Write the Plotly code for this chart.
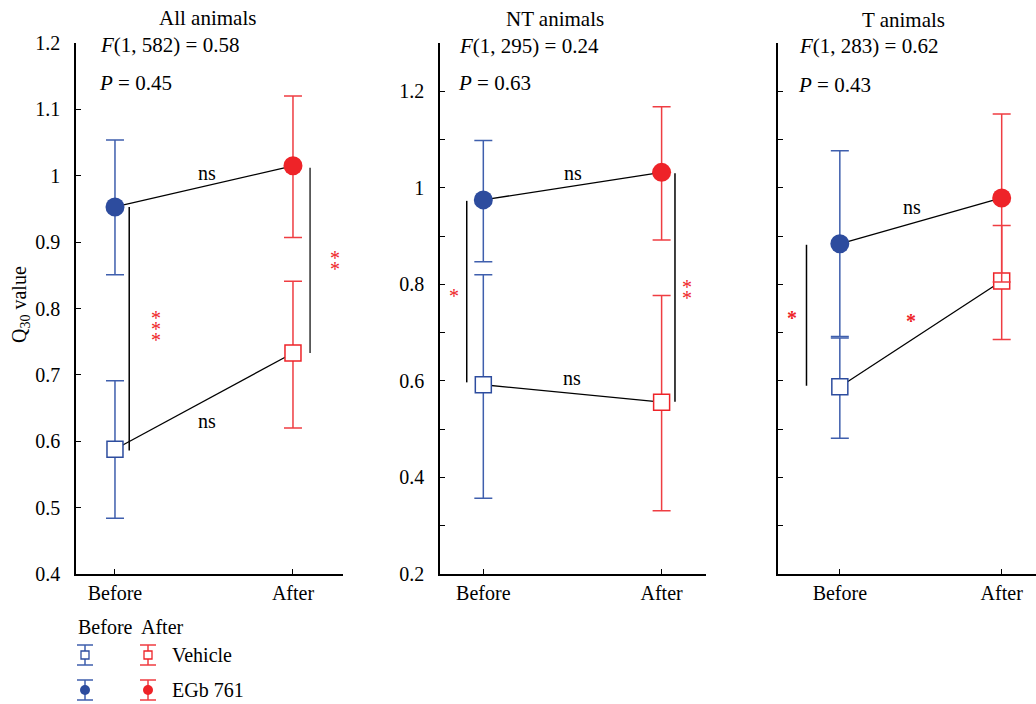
import plotly.graph_objects as go

# ---- data -------------------------------------------------------------
conditions = ["Before", "After"]

all_vehicle = [0.588, 0.733]
all_vehicle_hi = [0.691, 0.841]
all_vehicle_lo = [0.484, 0.620]
all_egb = [0.953, 1.015]
all_egb_hi = [1.054, 1.120]
all_egb_lo = [0.851, 0.907]

nt_vehicle = [0.592, 0.556]
nt_vehicle_hi = [0.820, 0.777]
nt_vehicle_lo = [0.357, 0.331]
nt_egb = [0.975, 1.032]
nt_egb_hi = [1.098, 1.168]
nt_egb_lo = [0.847, 0.892]

t_vehicle = [0.588, 0.807]
t_vehicle_hi = [0.689, 0.922]
t_vehicle_lo = [0.481, 0.686]
t_egb = [0.884, 0.979]
t_egb_hi = [1.077, 1.153]
t_egb_lo = [0.692, 0.805]

panel_titles = ["All animals", "NT animals", "T animals"]
f_stats = ["<i>F</i>(1, 582) = 0.58", "<i>F</i>(1, 295) = 0.24", "<i>F</i>(1, 283) = 0.62"]
p_stats = ["<i>P</i> = 0.45", "<i>P</i> = 0.63", "<i>P</i> = 0.43"]

y1_ticks = [0.4, 0.5, 0.6, 0.7, 0.8, 0.9, 1.0, 1.1, 1.2]
y1_labels = ["0.4", "0.5", "0.6", "0.7", "0.8", "0.9", "1", "1.1", "1.2"]
y2_ticks = [0.2, 0.4, 0.6, 0.8, 1.0, 1.2]
y2_labels = ["0.2", "0.4", "0.6", "0.8", "1", "1.2"]

# ---- style ------------------------------------------------------------
W, H = 1036, 704
FONT = "Liberation Serif"
BLUE = "#2d4c9e"
BLUE_BAR = "#3f5fad"
RED = "#ee2328"
RED_BAR = "#ef3d42"
STAR_RED = "#ee2328"


def px_x(p):
    return p / W


def px_y(p):
    return 1 - p / H


fig = go.Figure()

panels = [
    dict(xa="x", ya="y", veh=(all_vehicle, all_vehicle_hi, all_vehicle_lo),
         egb=(all_egb, all_egb_hi, all_egb_lo)),
    dict(xa="x2", ya="y2", veh=(nt_vehicle, nt_vehicle_hi, nt_vehicle_lo),
         egb=(nt_egb, nt_egb_hi, nt_egb_lo)),
    dict(xa="x3", ya="y3", veh=(t_vehicle, t_vehicle_hi, t_vehicle_lo),
         egb=(t_egb, t_egb_hi, t_egb_lo)),
]

for p in panels:
    xs = [0, 1]
    # connecting lines between Before and After means
    for vals, _, _ in (p["veh"], p["egb"]):
        fig.add_trace(go.Scatter(x=xs, y=vals, mode="lines",
                                 line=dict(color="black", width=1.3),
                                 xaxis=p["xa"], yaxis=p["ya"], showlegend=False,
                                 hoverinfo="skip"))
    # points with error bars (Before blue, After red)
    for key, symbol in (("veh", "square"), ("egb", "circle")):
        vals, hi, lo = p[key]
        for i, (mc, bc) in enumerate(((BLUE, BLUE_BAR), (RED, RED_BAR))):
            fill = "white" if symbol == "square" else mc
            size = 16 if symbol == "square" else 19
            fig.add_trace(go.Scatter(
                x=[xs[i]], y=[vals[i]], mode="markers",
                marker=dict(symbol=symbol, size=size, color=fill,
                            line=dict(color=mc, width=1.5 if symbol == "square" else 0)),
                error_y=dict(type="data", symmetric=False,
                             array=[hi[i] - vals[i]], arrayminus=[vals[i] - lo[i]],
                             color=bc, thickness=1.5, width=9),
                xaxis=p["xa"], yaxis=p["ya"], showlegend=False, hoverinfo="skip"))


def bracket(xa, ya, x, y0, y1, color="black"):
    fig.add_trace(go.Scatter(x=[x, x], y=[y0, y1], mode="lines",
                             line=dict(color=color, width=1.5),
                             xaxis=xa, yaxis=ya, showlegend=False, hoverinfo="skip"))


# significance brackets spanning the two groups
bracket("x", "y", 0.08, all_egb[0], all_vehicle[0] - 0.002)
bracket("x", "y", 1.096, all_egb[1] - 0.003, all_vehicle[1], "#333333")
bracket("x2", "y2", -0.093, nt_egb[0] - 0.002, nt_vehicle[0] + 0.005)
bracket("x2", "y2", 1.075, nt_egb[1] - 0.002, nt_vehicle[1] + 0.001)
bracket("x3", "y3", -0.206, t_egb[0] - 0.002, t_vehicle[0] + 0.002)

annotations = []


def text(xa, ya, x, y, s, size=20, color="black", xanchor="center"):
    annotations.append(dict(xref=xa, yref=ya, x=x, y=y, text=s, showarrow=False,
                            xanchor=xanchor, yanchor="middle",
                            font=dict(family=FONT, size=size, color=color)))


def stars(xa, ya, x, y, n, bold=False):
    spacing = 11
    for k in range(n):
        off = (k - (n - 1) / 2) * spacing
        s = "<b>*</b>" if bold else "*"
        annotations.append(dict(xref=xa, yref=ya, x=x, y=y, text=s, showarrow=False,
                                xanchor="center", yanchor="middle", yshift=-off - 5,
                                font=dict(family=FONT, size=20, color=STAR_RED)))


text("x", "y", 0.515, 1.004, "ns")
text("x", "y", 0.515, 0.630, "ns")
text("x2", "y2", 0.505, 1.031, "ns")
text("x2", "y2", 0.496, 0.606, "ns")
text("x3", "y3", 0.443, 0.961, "ns")

stars("x", "y", 0.229, 0.776, 3)
stars("x", "y", 1.236, 0.876, 2)
stars("x2", "y2", -0.164, 0.787, 1)
stars("x2", "y2", 1.142, 0.793, 2)
stars("x3", "y3", -0.298, 0.740, 1, bold=True)
stars("x3", "y3", 0.44, 0.735, 1, bold=True)

# panel titles and statistics
title_pos = [(207, 18), (555, 19), (903, 20)]
f_pos = [(98, 45), (457, 46), (797, 46)]
p_pos = [(97, 83), (456, 83), (796, 85)]
for i in range(3):
    annotations.append(dict(xref="paper", yref="paper", x=px_x(title_pos[i][0]),
                            y=px_y(title_pos[i][1]), text=panel_titles[i], showarrow=False,
                            xanchor="center", yanchor="middle",
                            font=dict(family=FONT, size=21, color="black")))
    annotations.append(dict(xref="paper", yref="paper", x=px_x(f_pos[i][0]),
                            y=px_y(f_pos[i][1]), text=f_stats[i], showarrow=False,
                            xanchor="left", yanchor="middle",
                            font=dict(family=FONT, size=21, color="black")))
    annotations.append(dict(xref="paper", yref="paper", x=px_x(p_pos[i][0]),
                            y=px_y(p_pos[i][1]), text=p_stats[i], showarrow=False,
                            xanchor="left", yanchor="middle",
                            font=dict(family=FONT, size=21, color="black")))

# y-axis title
annotations.append(dict(xref="paper", yref="paper", x=px_x(20), y=px_y(305),
                        text="Q<sub>30</sub> value", showarrow=False, textangle=-90,
                        xanchor="center", yanchor="middle",
                        font=dict(family=FONT, size=20, color="black")))

# ---- legend drawn in its own pixel-scaled axes ------------------------
leg_x0, leg_x1, leg_y0, leg_y1 = 60, 260, 610, 704
legend_rows = [("Vehicle", "square", 655), ("EGb 761", "circle", 690)]
legend_cols = [(85, BLUE, BLUE_BAR), (148, RED, RED_BAR)]
for label, symbol, ly in legend_rows:
    for lx, mc, bc in legend_cols:
        fig.add_trace(go.Scatter(
            x=[lx], y=[ly], mode="markers",
            marker=dict(symbol=symbol, size=8 if symbol == "square" else 10,
                        color="white" if symbol == "square" else mc,
                        line=dict(color=mc, width=1.3 if symbol == "square" else 0)),
            error_y=dict(type="data", array=[10], color=bc, thickness=1.5, width=8),
            xaxis="x4", yaxis="y4", showlegend=False, hoverinfo="skip"))
    annotations.append(dict(xref="x4", yref="y4", x=170, y=ly, text=label, showarrow=False,
                            xanchor="left", yanchor="middle",
                            font=dict(family=FONT, size=20, color="black")))
annotations.append(dict(xref="x4", yref="y4", x=76, y=627, text="Before", showarrow=False,
                        xanchor="left", yanchor="middle",
                        font=dict(family=FONT, size=20, color="black")))
annotations.append(dict(xref="x4", yref="y4", x=139, y=627, text="After", showarrow=False,
                        xanchor="left", yanchor="middle",
                        font=dict(family=FONT, size=20, color="black")))

# ---- axes -------------------------------------------------------------
ydom = [px_y(574), px_y(43)]
tickfont = dict(family=FONT, size=20, color="black")
common_x = dict(showline=True, linecolor="black", linewidth=1.5, ticks="inside",
                ticklen=5, tickcolor="black", tickwidth=1.2, showgrid=False,
                zeroline=False, tickvals=[0, 1], ticktext=conditions, tickfont=tickfont,
                ticklabelstandoff=0, fixedrange=True, automargin=False)
common_y = dict(showline=True, linecolor="black", linewidth=1.5, ticks="inside",
                ticklen=5, tickcolor="black", tickwidth=1.2, showgrid=False,
                zeroline=False, tickfont=tickfont, domain=ydom, ticklabelstandoff=10,
                fixedrange=True, automargin=False)
minor_y = dict(tick0=0.3, dtick=0.2, ticks="inside", ticklen=5, tickcolor="black",
               tickwidth=1.2, showgrid=False)

fig.update_layout(
    template="none",
    width=W, height=H, margin=dict(l=0, r=0, t=0, b=0, pad=0, autoexpand=False),
    paper_bgcolor="white", plot_bgcolor="white", showlegend=False,
    xaxis=dict(common_x, domain=[px_x(76), px_x(343)], range=[-0.219, 1.281], anchor="y"),
    xaxis2=dict(common_x, domain=[px_x(440), px_x(706)], range=[-0.243, 1.249], anchor="y2"),
    xaxis3=dict(common_x, domain=[px_x(778), 1.0], range=[-0.382, 1.212], anchor="y3"),
    yaxis=dict(common_y, range=[0.4, 1.2], tickvals=y1_ticks, ticktext=y1_labels, anchor="x"),
    yaxis2=dict(common_y, range=[0.2, 1.3], tickvals=y2_ticks, ticktext=y2_labels,
                minor=minor_y, anchor="x2"),
    yaxis3=dict(common_y, range=[0.2, 1.3], tickvals=y2_ticks, showticklabels=False,
                minor=minor_y, anchor="x3"),
    xaxis4=dict(domain=[px_x(leg_x0), px_x(leg_x1)], range=[leg_x0, leg_x1], visible=False,
                anchor="y4", fixedrange=True, automargin=False),
    yaxis4=dict(domain=[px_y(leg_y1), px_y(leg_y0)], range=[leg_y1, leg_y0], visible=False,
                anchor="x4", fixedrange=True, automargin=False),
    annotations=annotations,
)

fig.write_html("out.html")
